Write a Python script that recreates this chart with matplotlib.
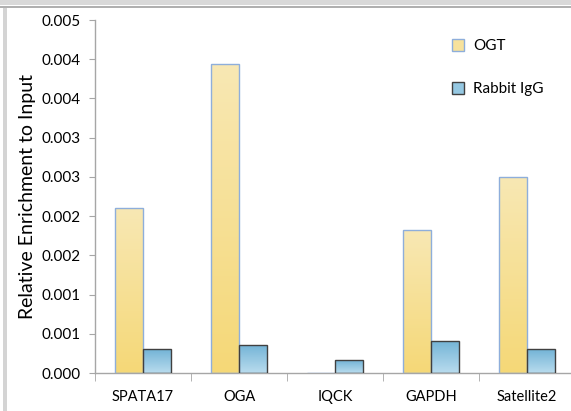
import numpy as np
import matplotlib.pyplot as plt
from matplotlib.patches import Rectangle, Patch
from matplotlib.ticker import FuncFormatter, FixedLocator
from decimal import Decimal, ROUND_HALF_UP

plt.rcParams['font.family'] = ['Lato', 'DejaVu Sans']

categories = ["SPATA17", "OGA", "IQCK", "GAPDH", "Satellite2"]
ogt = [0.00210, 0.00394, 0.0, 0.00182, 0.00250]
igg = [0.00030, 0.00036, 0.00016, 0.00041, 0.00030]
series = ["OGT", "Rabbit IgG"]


def fmt(v, pos):
    d = Decimal(str(round(v, 7))).quantize(Decimal("0.001"), rounding=ROUND_HALF_UP)
    return str(d)


def grad_bars(ax, xs, heights, width, top_col, bot_col, edge, lw):
    cmap = plt.matplotlib.colors.LinearSegmentedColormap.from_list("g", [bot_col, top_col])
    grad = np.linspace(0, 1, 256).reshape(-1, 1)
    bars = ax.bar(xs, heights, width, facecolor="none", edgecolor=edge, linewidth=lw, zorder=3)
    for b in bars:
        h = b.get_height()
        if h <= 0:
            continue
        x0 = b.get_x()
        im = ax.imshow(grad, cmap=cmap, origin="lower", aspect="auto",
                       extent=(x0, x0 + b.get_width(), 0, h), zorder=2)
        im.set_clip_path(b)
    return bars


fig = plt.figure(figsize=(5.71, 4.11), dpi=100)
ax = fig.add_axes([95 / 571, 38 / 411, 480 / 571, 353 / 411])

x = np.arange(len(categories))
w = 0.29
grad_bars(ax, x - w / 2, ogt, w, "#f8e8b4", "#f5d877", "#8eaedb", 1.0)
grad_bars(ax, x + w / 2, igg, w, "#72b3d6", "#b9dcee", "#404040", 1.0)

ax.set_xlim(-0.5, 4.5)
ax.set_ylim(0, 0.0045)
ax.yaxis.set_major_locator(FixedLocator(np.arange(0, 0.00451, 0.0005)))
ax.yaxis.set_major_formatter(FuncFormatter(fmt))
ax.set_xticks(x)
ax.set_xticklabels(categories)
ax.set_xticks(np.arange(-0.5, 4.6, 1), minor=True)
ax.tick_params(axis="x", which="major", length=0, pad=12, labelsize=10.5, colors="#000000")
ax.tick_params(axis="x", which="minor", length=6, color="#a6a6a6")
ax.tick_params(axis="y", length=4, color="#a6a6a6", labelsize=11, pad=6)

for s in ["top", "right"]:
    ax.spines[s].set_visible(False)
for s in ["left", "bottom"]:
    ax.spines[s].set_color("#a6a6a6")
    ax.spines[s].set_linewidth(1.0)

ax.set_ylabel("Relative Enrichment to Input", fontsize=14, labelpad=4)

handles = [Patch(facecolor="#f7e29c", edgecolor="#8eaedb"),
           Patch(facecolor="#95c8e2", edgecolor="#404040")]
ax.legend(handles, series, loc="upper left", bbox_to_anchor=(0.715, 0.985),
          frameon=False, fontsize=11, handlelength=0.8, handleheight=0.8,
          handletextpad=0.6, labelspacing=1.9)

# window frame
fig.add_artist(Rectangle((0, 1 - 5 / 411), 1, 5 / 411, transform=fig.transFigure,
                         facecolor="#d9d9d9", edgecolor="none"))
fig.add_artist(Rectangle((0, 1 - 8 / 411), 1, 1.5 / 411, transform=fig.transFigure,
                         facecolor="#b0b0b0", edgecolor="none"))
fig.add_artist(Rectangle((3 / 571, 0), 4 / 571, 1 - 8 / 411, transform=fig.transFigure,
                         facecolor="#d4d4d4", edgecolor="none"))

fig.savefig("out.png", dpi=100)
